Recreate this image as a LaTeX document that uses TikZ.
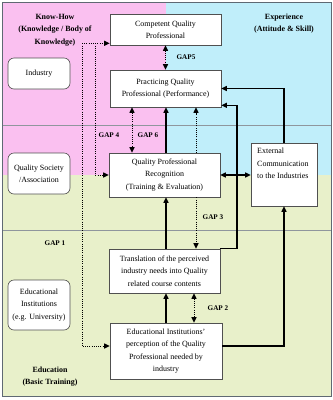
\documentclass[tikz,border=0pt]{standalone}
\usepackage{fontspec}
\setmainfont{Liberation Serif}
\usetikzlibrary{arrows.meta}
\definecolor{pinkbg}{RGB}{250,192,240}
\definecolor{cyanbg}{RGB}{192,238,250}
\definecolor{greenbg}{RGB}{232,240,202}
\definecolor{framegray}{RGB}{95,105,115}
\definecolor{boxline}{RGB}{80,80,80}
\begin{document}
\begin{tikzpicture}[x=1bp,y=-1bp,
  font=\fontsize{8}{12.5}\selectfont,
  box/.style={draw=boxline, fill=white, line width=0.6bp, align=center, inner sep=0pt},
  rbox/.style={box, rounded corners=6bp},
  lab/.style={font=\fontsize{8}{12.5}\selectfont\bfseries, align=center},
  gaplab/.style={font=\fontsize{7.2}{8}\selectfont\bfseries},
  tip/.tip={Triangle[length=5.5bp,width=5bp]},
  arr/.style={line width=1.1bp, -tip},
  darr/.style={line width=1.1bp, tip-tip},
  dotarr/.style={line width=1bp, dash pattern=on 1bp off 1.2bp, -tip},
  ddotarr/.style={line width=1bp, dash pattern=on 1bp off 1.2bp, tip-tip}]
\useasboundingbox (0,0) rectangle (333,400);
% background regions
\fill[pinkbg] (2,2) rectangle (166,175);
\fill[cyanbg] (166,2) rectangle (331,175);
\fill[greenbg] (2,175) rectangle (331,396);
\draw[framegray!70, line width=0.6bp] (2,125) -- (331,125);
\draw[framegray!70, line width=0.6bp] (2,230) -- (331,230);
\draw[framegray, line width=0.8bp] (2,2) rectangle (331,396);
% headings
\node[lab] (kh) at (55,30) {Know-How\\(Knowledge / Body of\\Knowledge)};
\node[lab] (exp) at (284,23.5) {Experience\\(Attitude \& Skill)};
\node[lab] (edl) at (50,376.5) {Education\\(Basic Training)};
% left rounded boxes
\node[rbox, minimum width=62bp, minimum height=31bp] (ind) at (39,73.5) {Industry};
\node[rbox, minimum width=62bp, minimum height=41bp] (qsa) at (39,173.5) {Quality Society\\/Association};
\node[rbox, minimum width=62bp, minimum height=50bp] (eiu) at (39,305) {Educational\\Institutions\\(e.g. University)};
% main boxes
\node[box, minimum width=111bp, minimum height=31bp] (comp) at (165.5,29.5) {Competent Quality\\Professional};
\node[box, minimum width=111bp, minimum height=37bp] (prac) at (165.5,88.5) {Practicing Quality\\Professional (Performance)};
\node[box, minimum width=111bp, minimum height=44bp] (qpr) at (164.5,175) {Quality Professional\\Recognition\\(Training \& Evaluation)};
\node[box, minimum width=111bp, minimum height=44bp] (trans) at (164.5,271) {Translation of the perceived\\industry needs into Quality\\related course contents};
\node[box, minimum width=112bp, minimum height=56bp] (edu) at (166,351) {Educational Institutions'\\perception of the Quality\\Professional needed by\\industry};
\node[box, minimum width=66bp, minimum height=63bp] (ext) at (284,174.5) {};
\node[anchor=north west, align=left, inner sep=0pt] (extt) at (257,148) {External\\Communication\\to the Industries};
% gap labels
\node[gaplab] (g1) at (55,243) {GAP 1};
\node[gaplab] (g2) at (218,308) {GAP 2};
\node[gaplab] (g3) at (213,217) {GAP 3};
\node[gaplab] (g4) at (109,135) {GAP 4};
\node[gaplab] (g5) at (186,57) {GAP5};
\node[gaplab] (g6) at (148,135) {GAP 6};
% helper coordinates
\coordinate (xl) at (82,0);
\coordinate (xm) at (95,0);
\coordinate (xg4) at (132,0);
\coordinate (xs) at (166,0);
\coordinate (xg6) at (196,0);
\coordinate (xg2) at (194,0);
\coordinate (xr) at (237,0);
\coordinate (ctop) at ([yshift=2bp]comp.south west);
\coordinate (edin) at ([yshift=5bp]edu.west);
\coordinate (edout) at ([yshift=5bp]edu.east);
\coordinate (pse) at ([yshift=2bp]prac.south east);
% connectors
\draw[ddotarr] (comp.south) -- (prac.north);
\draw[ddotarr] (xg4 |- prac.south) -- (xg4 |- qpr.north);
\draw[arr] (xs |- qpr.north) -- (xs |- prac.south);
\draw[dotarr] (xg6 |- qpr.north) -- (xg6 |- prac.south);
\draw[arr] (xs |- trans.north) -- (xs |- qpr.south);
\draw[dotarr] (xg6 |- qpr.south) -- (xg6 |- trans.north);
\draw[arr] (xs |- edu.north) -- (xs |- trans.south);
\draw[ddotarr] (xg2 |- trans.south) -- (xg2 |- edu.north);
\draw[arr] (trans.north east) -- (xr |- trans.north east) -- (xr |- pse) -- (pse);
\draw[arr] (ext.north) |- (prac.east);
\draw[arr] (edout) -| (ext.south);
\draw[darr] (qpr.east) -- (ext.west |- qpr.east);
\draw[dotarr] (xl |- ctop) -- (ctop);
\draw[dotarr] (xl |- ctop) -- (xl |- edin) -- (edin);
\draw[dotarr] (xm |- ctop) -- (xm |- qpr.west) -- (qpr.west);
\end{tikzpicture}
\end{document}
